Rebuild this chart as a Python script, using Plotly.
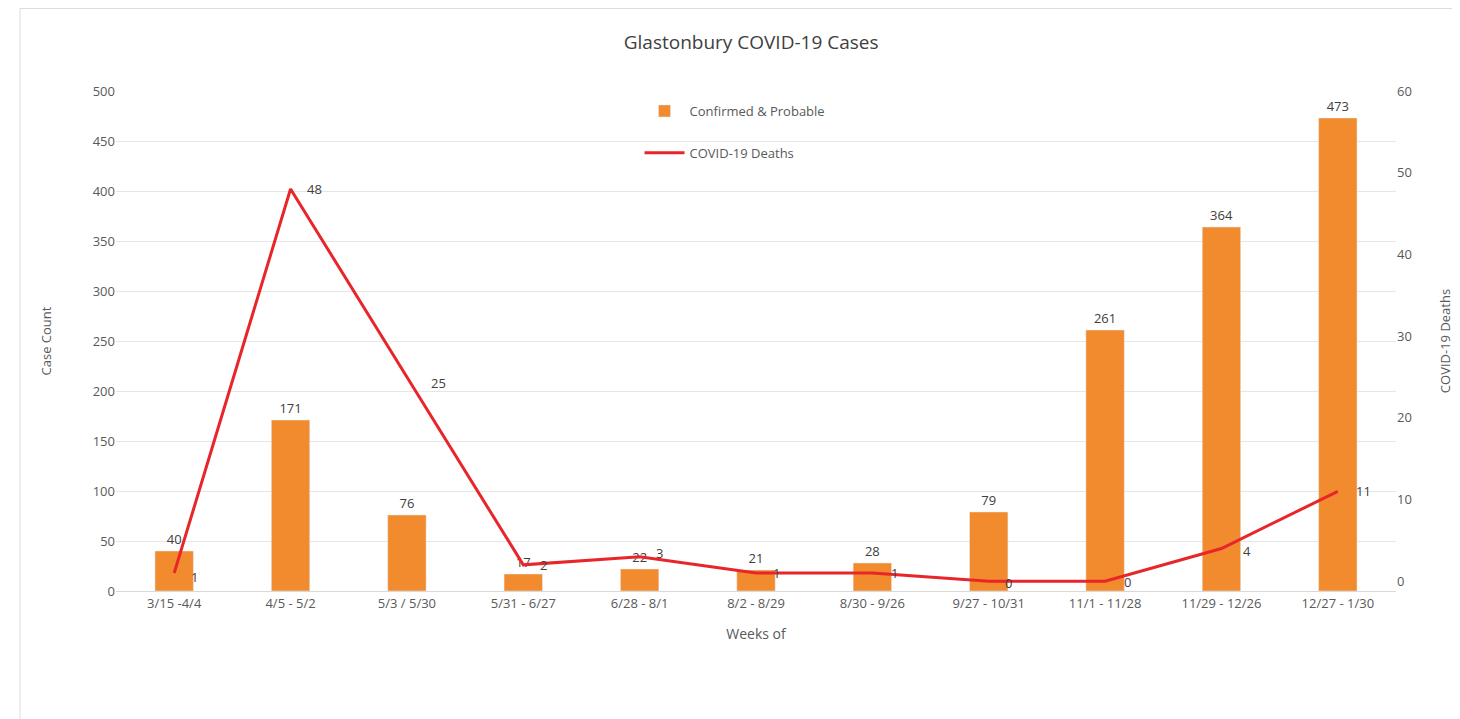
import plotly.graph_objects as go

weeks = ["3/15 -4/4", "4/5 - 5/2", "5/3 / 5/30", "5/31 - 6/27", "6/28 - 8/1", "8/2 - 8/29",
         "8/30 - 9/26", "9/27 - 10/31", "11/1 - 11/28", "11/29 - 12/26", "12/27 - 1/30"]
cases = [40, 171, 76, 17, 22, 21, 28, 79, 261, 364, 473]
deaths = [1, 48, 25, 2, 3, 1, 1, 0, 0, 4, 11]
# label offsets (pixels) for the death labels
death_dx = [20, 24, 32, 20, 20, 20, 22, 20, 22, 26, 26]
death_dy = [-4, 0, -6, 0, 4, 0, 0, -2, -1, -2, 0]

txt = "#595959"
font = "Open Sans, Noto Sans, sans-serif"

fig = go.Figure()
fig.add_trace(go.Bar(
    x=weeks, y=cases, name="Confirmed & Probable", legendgroup="a",
    marker=dict(color="#F28A2E"), width=0.33,
    text=[str(v) for v in cases], textposition="outside",
    textfont=dict(color="#404040", size=13), cliponaxis=False,
))
fig.add_trace(go.Scatter(
    x=weeks, y=deaths, name="COVID-19 Deaths", yaxis="y2", mode="lines", legendgroup="b",
    line=dict(color="#E8262A", width=3),
))
for w, d, dx, dy in zip(weeks, deaths, death_dx, death_dy):
    fig.add_annotation(x=w, y=d, yref="y2", text=str(d), showarrow=False,
                       xshift=dx, yshift=dy, font=dict(color="#404040", size=13))

fig.update_layout(
    width=1460, height=719,
    paper_bgcolor="white", plot_bgcolor="white",
    font=dict(family=font, color=txt, size=13),
    title=dict(text="Glastonbury COVID-19 Cases", x=0.509, xanchor="center", y=0.952,
               yanchor="middle", font=dict(size=19, color="#404040")),
    margin=dict(l=108, r=72, t=83, b=136),
    showlegend=True,
    legend=dict(x=0.409, y=0.99, xanchor="left", yanchor="top", bgcolor="rgba(0,0,0,0)",
                font=dict(size=13, color=txt), tracegroupgap=22, itemwidth=40),
    xaxis=dict(title=dict(text="Weeks of", font=dict(size=14, color=txt), standoff=18),
               showgrid=False, showline=True, linecolor="#d9d9d9", ticks="",
               tickfont=dict(size=13, color=txt)),
    yaxis=dict(title=dict(text="Case Count", font=dict(size=13, color=txt), standoff=38),
               range=[0, 500], dtick=50, showgrid=True, gridcolor="#e6e6e6",
               zeroline=False, tickfont=dict(size=13, color=txt)),
    yaxis2=dict(title=dict(text="COVID-19 Deaths", font=dict(size=13, color=txt), standoff=30),
                range=[-1.2, 60], dtick=10, overlaying="y", side="right", showgrid=False,
                zeroline=False, tickfont=dict(size=13, color=txt)),
)
fig.add_shape(type="rect", xref="paper", yref="paper", x0=-0.075, x1=1.06, y0=-0.27, y1=1.165,
              line=dict(color="#dddddd", width=1))
fig.write_html("out.html")
